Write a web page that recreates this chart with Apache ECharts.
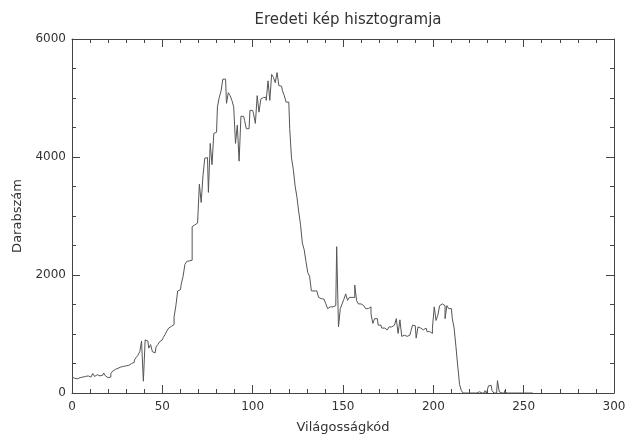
<!DOCTYPE html>
<html>
<head>
<meta charset="utf-8">
<script src="https://cdn.jsdelivr.net/npm/echarts@6/dist/echarts.min.js"></script>
<style>
html,body{margin:0;padding:0;background:#fff;}
#c{width:629px;height:439px;}
</style>
</head>
<body>
<div id="c"></div>
<script>
const chartTitle = "Eredeti kép hisztogramja";
const xTitle = "Világosságkód";
const yTitle = "Darabszám";
const xTicks = [0, 50, 100, 150, 200, 250, 300];
const yTicks = [0, 2000, 4000, 6000];
// histogram counts for brightness codes 0..255
const counts = [
  270, 250, 260, 240, 260, 250, 270, 280, 260, 290,
  270, 300, 330, 280, 310, 290, 320, 300, 340, 290,
  260, 270, 330, 370, 400, 420, 400, 440, 450, 440,
  460, 470, 490, 500, 520, 560, 600, 640, 700, 880,
  200, 900, 880, 760, 820, 700, 680, 780, 820, 870,
  900, 940, 990, 1050, 1100, 1130, 1160, 1290, 1480, 1730,
  1750, 1850, 1980, 2180, 2230, 2240, 2250, 2820, 2850, 2880,
  2910, 3540, 3230, 3680, 3980, 3990, 3400, 4230, 3870, 4400,
  4420, 4850, 5010, 5120, 5320, 5320, 4910, 5090, 5040, 4960,
  4850, 4230, 4540, 3930, 4690, 4690, 4620, 4480, 4480, 4790,
  4790, 4730, 4570, 5040, 4760, 4980, 5010, 5010, 4960, 5290,
  4960, 5400, 5350, 5260, 5430, 5210, 5200, 5120, 5040, 4930,
  4930, 4480, 3980, 3790, 3510, 3320, 3070, 2850, 2540, 2430,
  2230, 2040, 1980, 1730, 1730, 1730, 1730, 1620, 1600, 1590,
  1570, 1510, 1430, 1460, 1460, 1480, 1480, 2480, 1120, 1430,
  1510, 1590, 1680, 1570, 1620, 1620, 1620, 1830, 1570, 1510,
  1510, 1480, 1460, 1430, 1430, 1460, 1340, 1180, 1260, 1260,
  1150, 1150, 1100, 1100, 1070, 1070, 1120, 1120, 1150, 1150,
  1260, 1010, 1240, 960, 980, 960, 960, 980, 1040, 1150,
  1140, 930, 1120, 1100, 1070, 1070, 1100, 1040, 1040, 1010,
  1100, 1460, 1230, 1320, 1480, 1510, 1480, 1260, 1480, 1430,
  1430, 1260, 1100, 790, 460, 150, 40, 0, 0, 0,
  0, 0, 0, 0, 0, 20, 0, 0, 0, 40,
  0, 120, 130, 40, 0, 0, 210, 20, 0, 0,
  40, 0, 0, 0, 0, 0, 0, 0, 0, 0,
  0, 0, 0, 0, 0, 0
];

const data = counts.map((v, i) => [i, v]);
const axisCol = '#444';
const textCol = '#333';
const font = 'DejaVu Sans';

function xAx(pos, showLabels) {
  return {
    type: 'value', position: pos, min: 0, max: 300, interval: 50,
    axisLine: { show: true, onZero: false, lineStyle: { color: axisCol, width: 1 } },
    axisTick: { show: true, inside: true, length: 8, lineStyle: { color: axisCol } },
    minorTick: { show: true, splitNumber: 5, length: 4, lineStyle: { color: axisCol } },
    splitLine: { show: false },
    axisLabel: { show: showLabels, color: textCol, fontFamily: font, fontSize: 12, margin: 8,
      formatter: v => xTicks.includes(v) ? String(v) : '' },
    name: showLabels ? xTitle : '', nameLocation: 'middle', nameGap: 28,
    nameTextStyle: { color: textCol, fontFamily: font, fontSize: 13 }
  };
}
function yAx(pos, showLabels) {
  return {
    type: 'value', position: pos, min: 0, max: 6000, interval: 2000,
    axisLine: { show: true, onZero: false, lineStyle: { color: axisCol, width: 1 } },
    axisTick: { show: true, inside: true, length: 8, lineStyle: { color: axisCol } },
    minorTick: { show: true, splitNumber: 4, length: 4, lineStyle: { color: axisCol } },
    splitLine: { show: false },
    axisLabel: { show: showLabels, color: textCol, fontFamily: font, fontSize: 12, margin: 6,
      formatter: v => yTicks.includes(v) ? String(v) : '' },
    name: showLabels ? yTitle : '', nameLocation: 'middle', nameGap: 44,
    nameTextStyle: { color: textCol, fontFamily: font, fontSize: 13 }
  };
}

const chart = echarts.init(document.getElementById('c'), null, { renderer: 'canvas' });
chart.setOption({
  animation: false,
  backgroundColor: '#fff',
  title: {
    text: chartTitle, left: 343, top: 8, textAlign: 'center',
    textStyle: { color: textCol, fontFamily: font, fontSize: 15, fontWeight: 'normal' }
  },
  grid: { left: 72, top: 39, width: 542, height: 360 },
  xAxis: [xAx('bottom', true), xAx('top', false)],
  yAxis: [yAx('left', true), yAx('right', false)],
  series: [{
    type: 'line', step: 'middle', data: data, showSymbol: false, symbol: 'none',
    xAxisIndex: 0, yAxisIndex: 0,
    lineStyle: { color: '#555', width: 1 }, clip: true
  }]
});
</script>
</body>
</html>
